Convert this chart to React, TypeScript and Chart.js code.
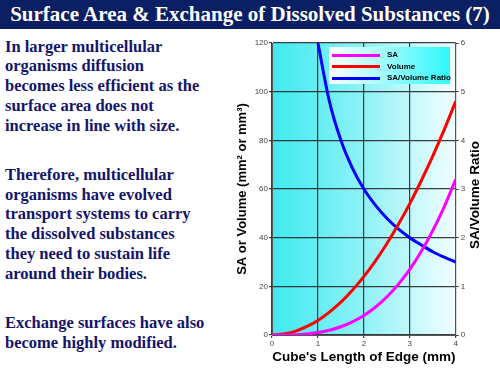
import React, { useEffect, useRef } from "react";
import { Chart, registerables } from "chart.js";

Chart.register(...registerables);

const titleText = "Surface Area & Exchange of Dissolved Substances (7)";
const paragraphs = [
  ["In larger multicellular", "organisms diffusion", "becomes less efficient as the", "surface area does not", "increase in line with size."],
  ["Therefore, multicellular", "organisms have evolved", "transport systems to carry", "the dissolved substances", "they need to sustain life", "around their bodies."],
  ["Exchange surfaces have also", "become highly modified."],
];

const seriesNames = ["SA", "Volume", "SA/Volume Ratio"];
const seriesColors = ["#ff00ff", "#ff0000", "#0000ff"];

const edgeLengths = [0, 0.25, 0.5, 0.75, 1, 1.25, 1.5, 1.75, 2, 2.25, 2.5, 2.75, 3, 3.25, 3.5, 3.75, 4];
const saValues = [0, 0.02, 0.13, 0.42, 1, 1.95, 3.4, 5.4, 8, 11.4, 15.6, 20.8, 27, 34.3, 42.9, 52.7, 64];
const volumeValues = [0, 0.4, 1.5, 3.4, 6, 9.4, 13.5, 18.4, 24, 30.4, 37.5, 45.4, 54, 63.4, 73.5, 84.4, 96];
const ratioEdges = [1, 1.25, 1.5, 1.75, 2, 2.25, 2.5, 2.75, 3, 3.25, 3.5, 3.75, 4];
const ratioValues = [6, 4.8, 4, 3.43, 3, 2.67, 2.4, 2.18, 2, 1.85, 1.71, 1.6, 1.5];

const xTitle = "Cube's Length of Edge (mm)";
const yLeftTitle = "SA or Volume (mm² or mm³)";
const yRightTitle = "SA/Volume Ratio";

const SANS = '"Liberation Sans", Arial, sans-serif';
const SERIF = '"Liberation Serif", "Times New Roman", serif';

const bgPlugin = {
  id: "plotBg",
  beforeDraw(chart: any) {
    const { ctx, chartArea } = chart;
    const g = ctx.createLinearGradient(chartArea.left, 0, chartArea.right, 0);
    g.addColorStop(0, "#3fe9ef");
    g.addColorStop(0.5, "#8ff2f6");
    g.addColorStop(1, "#f2feff");
    ctx.save();
    ctx.fillStyle = g;
    ctx.fillRect(chartArea.left, chartArea.top, chartArea.right - chartArea.left, chartArea.bottom - chartArea.top);
    ctx.restore();
  },
  afterDraw(chart: any) {
    const { ctx, chartArea } = chart;
    ctx.save();
    ctx.translate(255, (chartArea.top + chartArea.bottom) / 2 + 6);
    ctx.rotate(-Math.PI / 2);
    ctx.font = `bold 13.5px ${SANS}`;
    ctx.fillStyle = "#000";
    ctx.textAlign = "center";
    ctx.textBaseline = "middle";
    ctx.fillText(yRightTitle, 0, 0);
    ctx.restore();
  },
};

function ChartPanel() {
  const ref = useRef<HTMLCanvasElement | null>(null);
  useEffect(() => {
    if (!ref.current) return;
    const gridColor = "rgba(40,40,40,0.9)";
    const tickFont = { family: SANS, size: 8 };
    const chart = new Chart(ref.current, {
      type: "line",
      data: {
        datasets: [
          {
            label: seriesNames[0],
            data: edgeLengths.map((x, i) => ({ x, y: saValues[i] })),
            borderColor: seriesColors[0],
            borderWidth: 3,
            pointRadius: 0,
            cubicInterpolationMode: "monotone",
            yAxisID: "y",
          },
          {
            label: seriesNames[1],
            data: edgeLengths.map((x, i) => ({ x, y: volumeValues[i] })),
            borderColor: seriesColors[1],
            borderWidth: 3,
            pointRadius: 0,
            cubicInterpolationMode: "monotone",
            yAxisID: "y",
          },
          {
            label: seriesNames[2],
            data: ratioEdges.map((x, i) => ({ x, y: ratioValues[i] })),
            borderColor: seriesColors[2],
            borderWidth: 3,
            pointRadius: 0,
            cubicInterpolationMode: "monotone",
            yAxisID: "y1",
          },
        ],
      },
      options: {
        animation: false,
        responsive: false,
        maintainAspectRatio: false,
        layout: { padding: { top: 13, left: 0, right: 0, bottom: 0 } },
        plugins: { legend: { display: false }, tooltip: { enabled: false } },
        scales: {
          x: {
            type: "linear",
            min: 0,
            max: 4,
            ticks: { stepSize: 1, font: tickFont, color: "#444", padding: 1 },
            grid: { color: gridColor, lineWidth: 1.2, tickLength: 3 },
            border: { color: "#555" },
            title: {
              display: true,
              text: xTitle,
              color: "#000",
              font: { family: SANS, size: 13.5, weight: "bold" },
              padding: { top: 0, bottom: 10 },
            },
            afterFit(scale: any) {
              scale.height = 40;
            },
          },
          y: {
            position: "left",
            min: 0,
            max: 120,
            ticks: { stepSize: 20, font: tickFont, color: "#444", padding: 1 },
            grid: { color: gridColor, lineWidth: 1.2, tickLength: 3 },
            border: { color: "#555" },
            title: {
              display: true,
              text: yLeftTitle,
              color: "#000",
              font: { family: SANS, size: 13, weight: "bold" },
              padding: { top: 15, bottom: 0 },
            },
            afterFit(scale: any) {
              scale.width = 52;
            },
          },
          y1: {
            position: "right",
            min: 0,
            max: 6,
            ticks: { stepSize: 1, font: tickFont, color: "#444", padding: 2 },
            grid: { drawOnChartArea: false, color: gridColor, tickLength: 3 },
            border: { color: "#555" },
            afterFit(scale: any) {
              scale.width = 44.3;
            },
          },
        },
      },
      plugins: [bgPlugin],
    } as any);
    return () => chart.destroy();
  }, []);
  return <canvas ref={ref} width={280} height={345} style={{ position: "absolute", left: 220, top: 30, width: 280, height: 345 }} />;
}

function Legend() {
  const rows = [55, 66.5, 78];
  return (
    <div
      style={{
        position: "absolute",
        left: 329,
        top: 47,
        width: 121,
        height: 37,
        background: "linear-gradient(to right, #ffffff, #2ff7fb)",
      }}
    >
      {seriesNames.map((name, i) => (
        <React.Fragment key={name}>
          <div
            style={{
              position: "absolute",
              left: 3,
              top: rows[i] - 47 - 1.5,
              width: 48,
              height: 3,
              background: seriesColors[i],
            }}
          />
          <div
            style={{
              position: "absolute",
              left: 58,
              top: rows[i] - 47 - 6,
              height: 12,
              lineHeight: "12px",
              fontFamily: SANS,
              fontWeight: "bold",
              fontSize: 8,
              color: "#000",
              whiteSpace: "nowrap",
            }}
          >
            {name}
          </div>
        </React.Fragment>
      ))}
    </div>
  );
}

export default function App() {
  const paraTops = [36.7, 165, 313];
  return (
    <div style={{ position: "fixed", left: 0, top: 0, width: 500, height: 375, background: "#fff", overflow: "hidden" }}>
      <div
        style={{
          position: "absolute",
          left: 0,
          top: 0,
          width: 500,
          height: 29,
          background: "#0b1f64",
          color: "#fff",
          fontFamily: SERIF,
          fontWeight: "bold",
          fontSize: 21,
          lineHeight: "29px",
          textAlign: "center",
          whiteSpace: "nowrap",
        }}
      >
        {titleText}
      </div>
      {paragraphs.map((lines, p) => (
        <div
          key={p}
          style={{
            position: "absolute",
            left: 5,
            top: paraTops[p],
            fontFamily: SERIF,
            fontWeight: "bold",
            fontSize: 16.5,
            lineHeight: "19.7px",
            color: "#14146a",
          }}
        >
          {lines.map((l, i) => (
            <div key={i} style={{ whiteSpace: "nowrap" }}>
              {l}
            </div>
          ))}
        </div>
      ))}
      <ChartPanel />
      <Legend />
    </div>
  );
}
